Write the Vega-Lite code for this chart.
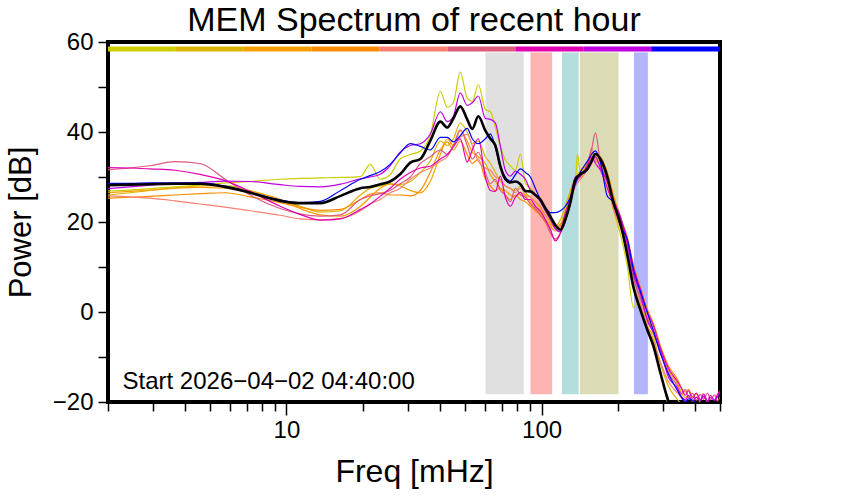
{
  "$schema": "https://vega.github.io/schema/vega-lite/v6.json",
  "autosize": {"type": "none"},
  "width": 612,
  "height": 360,
  "padding": {"left": 108, "top": 42, "right": 122, "bottom": 98},
  "background": "white",
  "config": {
    "font": "Liberation Sans",
    "view": {"stroke": "black", "strokeWidth": 4},
    "axis": {"labelFont": "Liberation Sans", "titleFont": "Liberation Sans", "labelColor": "black", "titleColor": "black", "tickColor": "black", "domain": false, "grid": false, "titleFontWeight": "normal", "labelFlush": false, "labelOverlap": false}
  },
  "title": {"text": "MEM Spectrum of recent hour", "fontSize": 34, "fontWeight": "normal", "color": "black", "font": "Liberation Sans", "anchor": "middle", "offset": -8},
  "datasets": {
    "spec": [
      {"f":2,"y1":26.9,"y2":26.0,"y3":26.5,"y4":25.3,"y5":25.8,"y6":31.6,"y7":32.1,"y8":27.4,"y9":28.6,"m":28.2},
      {"f":2.44,"y1":27.1,"y2":26.5,"y3":26.8,"y4":25.5,"y5":25.6,"y6":32.0,"y7":32.0,"y8":27.8,"y9":28.6,"m":28.3},
      {"f":2.92,"y1":27.4,"y2":27.0,"y3":27.1,"y4":25.7,"y5":25.3,"y6":32.5,"y7":31.8,"y8":28.2,"y9":28.7,"m":28.4},
      {"f":3.66,"y1":27.8,"y2":27.6,"y3":27.5,"y4":26.0,"y5":24.7,"y6":33.4,"y7":31.5,"y8":28.6,"y9":28.7,"m":28.5},
      {"f":4.59,"y1":28.2,"y2":28.0,"y3":27.7,"y4":26.3,"y5":24.0,"y6":33.0,"y7":30.6,"y8":28.8,"y9":28.7,"m":28.5},
      {"f":5.75,"y1":28.7,"y2":28.1,"y3":27.5,"y4":26.5,"y5":23.3,"y6":29.5,"y7":29.2,"y8":29.1,"y9":28.0,"m":27.8},
      {"f":7.21,"y1":29.0,"y2":27.0,"y3":26.8,"y4":25.6,"y5":22.5,"y6":26.0,"y7":26.8,"y8":29.0,"y9":26.6,"m":26.5},
      {"f":9.45,"y1":29.5,"y2":25.0,"y3":25.0,"y4":24.3,"y5":21.5,"y6":23.0,"y7":23.5,"y8":28.3,"y9":24.9,"m":24.7},
      {"f":11.3,"y1":29.7,"y2":23.5,"y3":23.0,"y4":23.3,"y5":20.7,"y6":21.8,"y7":21.7,"y8":27.9,"y9":24.3,"m":24.2},
      {"f":13.6,"y1":29.8,"y2":22.2,"y3":21.6,"y4":22.6,"y5":20.5,"y6":21.3,"y7":20.4,"y8":27.8,"y9":24.6,"m":24.2},
      {"f":16.3,"y1":29.9,"y2":22.5,"y3":21.3,"y4":22.8,"y5":20.8,"y6":21.6,"y7":20.7,"y8":28.4,"y9":27.0,"m":25.8},
      {"f":19.5,"y1":30.1,"y2":26.0,"y3":23.5,"y4":25.0,"y5":22.5,"y6":25.0,"y7":22.8,"y8":29.6,"y9":29.5,"m":27.5},
      {"f":21.3,"y1":32.8,"y2":27.5,"y3":25.5,"y4":26.2,"y5":24.0,"y6":25.8,"y7":24.0,"y8":30.0,"y9":30.3,"m":27.8},
      {"f":23.3,"y1":29.5,"y2":28.0,"y3":27.5,"y4":26.5,"y5":25.0,"y6":26.3,"y7":25.7,"y8":30.6,"y9":31.2,"m":28.4},
      {"f":25.5,"y1":30.5,"y2":28.5,"y3":28.4,"y4":26.0,"y5":26.5,"y6":27.0,"y7":27.5,"y8":32.5,"y9":32.8,"m":29.0},
      {"f":27.9,"y1":34.0,"y2":28.3,"y3":28.0,"y4":26.0,"y5":27.5,"y6":28.5,"y7":29.5,"y8":35.5,"y9":35.3,"m":30.6},
      {"f":30.6,"y1":35.0,"y2":29.0,"y3":27.0,"y4":25.8,"y5":29.5,"y6":30.0,"y7":31.0,"y8":37.0,"y9":37.4,"m":33.2},
      {"f":33.5,"y1":35.8,"y2":31.0,"y3":26.5,"y4":27.0,"y5":31.0,"y6":33.0,"y7":32.0,"y8":37.4,"y9":36.8,"m":34.0},
      {"f":36.6,"y1":39.2,"y2":33.5,"y3":29.0,"y4":31.0,"y5":32.0,"y6":34.5,"y7":32.4,"y8":39.5,"y9":36.0,"m":38.0},
      {"f":40.1,"y1":49.0,"y2":38.0,"y3":35.0,"y4":36.0,"y5":33.5,"y6":36.0,"y7":34.0,"y8":44.5,"y9":38.8,"m":42.3},
      {"f":42.7,"y1":45.5,"y2":37.0,"y3":38.5,"y4":37.8,"y5":34.5,"y6":35.0,"y7":35.0,"y8":42.3,"y9":38.8,"m":41.0},
      {"f":45.1,"y1":46.5,"y2":38.5,"y3":37.0,"y4":36.0,"y5":36.9,"y6":37.0,"y7":36.7,"y8":43.5,"y9":37.8,"m":43.0},
      {"f":48.0,"y1":53.3,"y2":42.0,"y3":40.3,"y4":38.0,"y5":38.9,"y6":40.5,"y7":38.5,"y8":48.7,"y9":39.2,"m":45.7},
      {"f":51.1,"y1":47.5,"y2":40.0,"y3":38.0,"y4":35.0,"y5":39.5,"y6":37.0,"y7":33.3,"y8":45.9,"y9":40.8,"m":42.8},
      {"f":53.5,"y1":46.8,"y2":37.5,"y3":35.5,"y4":33.0,"y5":37.0,"y6":34.0,"y7":36.0,"y8":46.5,"y9":38.5,"m":40.7},
      {"f":56.5,"y1":50.5,"y2":38.0,"y3":34.5,"y4":34.0,"y5":33.5,"y6":35.5,"y7":38.5,"y8":48.0,"y9":37.4,"m":43.5},
      {"f":60.2,"y1":45.0,"y2":34.5,"y3":33.0,"y4":29.5,"y5":32.0,"y6":31.0,"y7":30.0,"y8":43.0,"y9":38.5,"m":40.3},
      {"f":63.0,"y1":44.5,"y2":33.0,"y3":30.5,"y4":28.0,"y5":31.5,"y6":28.5,"y7":27.0,"y8":42.8,"y9":39.6,"m":38.5},
      {"f":65.9,"y1":41.0,"y2":31.0,"y3":29.0,"y4":27.0,"y5":30.0,"y6":29.5,"y7":26.8,"y8":42.0,"y9":36.5,"m":37.0},
      {"f":68.9,"y1":36.9,"y2":29.0,"y3":27.5,"y4":27.5,"y5":29.5,"y6":27.0,"y7":30.2,"y8":36.9,"y9":32.4,"m":32.4},
      {"f":72.1,"y1":33.8,"y2":28.0,"y3":27.0,"y4":26.0,"y5":28.0,"y6":26.0,"y7":25.5,"y8":31.5,"y9":30.0,"m":29.5},
      {"f":75.4,"y1":32.5,"y2":27.5,"y3":26.0,"y4":25.0,"y5":27.5,"y6":24.5,"y7":23.5,"y8":30.2,"y9":29.1,"m":28.8},
      {"f":78.9,"y1":31.5,"y2":27.0,"y3":25.5,"y4":26.0,"y5":26.5,"y6":27.5,"y7":25.5,"y8":31.3,"y9":30.5,"m":29.0},
      {"f":82.6,"y1":35.1,"y2":28.0,"y3":26.5,"y4":25.0,"y5":27.5,"y6":26.0,"y7":26.6,"y8":30.6,"y9":31.8,"m":28.4},
      {"f":86.4,"y1":28.5,"y2":26.5,"y3":25.8,"y4":24.5,"y5":26.0,"y6":25.5,"y7":25.0,"y8":29.5,"y9":31.0,"m":26.9},
      {"f":90.4,"y1":27.5,"y2":25.5,"y3":24.5,"y4":23.5,"y5":25.5,"y6":24.0,"y7":25.0,"y8":27.0,"y9":30.0,"m":26.8},
      {"f":94.5,"y1":26.0,"y2":24.5,"y3":23.0,"y4":22.5,"y5":24.5,"y6":23.0,"y7":23.5,"y8":26.0,"y9":27.5,"m":26.0},
      {"f":98.9,"y1":24.4,"y2":23.0,"y3":22.0,"y4":21.5,"y5":23.5,"y6":21.5,"y7":22.4,"y8":24.5,"y9":25.0,"m":25.0},
      {"f":103.5,"y1":22.5,"y2":21.5,"y3":20.5,"y4":20.0,"y5":21.5,"y6":20.0,"y7":20.5,"y8":22.5,"y9":23.2,"m":23.0},
      {"f":108.3,"y1":20.6,"y2":20.0,"y3":19.5,"y4":19.0,"y5":20.5,"y6":17.5,"y7":18.3,"y8":20.5,"y9":22.1,"m":21.2},
      {"f":113.2,"y1":19.0,"y2":19.2,"y3":18.8,"y4":18.0,"y5":18.5,"y6":16.2,"y7":15.8,"y8":18.5,"y9":22.1,"m":19.3},
      {"f":118.5,"y1":19.5,"y2":20.5,"y3":19.5,"y4":19.0,"y5":19.0,"y6":17.5,"y7":17.6,"y8":17.8,"y9":22.5,"m":18.3},
      {"f":123.9,"y1":22.0,"y2":23.5,"y3":22.5,"y4":21.5,"y5":21.5,"y6":20.0,"y7":22.0,"y8":21.0,"y9":23.5,"m":20.6},
      {"f":129.7,"y1":26.6,"y2":27.0,"y3":26.0,"y4":25.5,"y5":25.0,"y6":24.0,"y7":25.0,"y8":25.5,"y9":25.5,"m":24.4},
      {"f":135.7,"y1":29.0,"y2":30.0,"y3":29.5,"y4":29.0,"y5":28.0,"y6":28.5,"y7":29.0,"y8":30.0,"y9":28.5,"m":29.5},
      {"f":138.1,"y1":35.1},
      {"f":141.9,"y1":31.1,"y2":31.0,"y3":31.5,"y4":30.5,"y5":29.5,"y6":30.0,"y7":30.2,"y8":30.5,"y9":31.1,"m":30.6},
      {"f":151.1,"y1":33.0,"y2":33.5,"y3":33.0,"y4":32.5,"y5":32.0,"y6":33.0,"y7":32.5,"y8":31.5,"y9":33.5,"m":31.8},
      {"f":156.8,"y1":34.0,"y2":34.5,"y3":35.0,"y4":35.5,"y5":36.5,"y6":36.0,"y7":34.5,"y8":33.0,"y9":35.0,"m":33.5},
      {"f":162.5,"y1":34.0,"y2":33.5,"y3":34.5,"y4":35.0,"y5":34.0,"y6":39.8,"y7":33.0,"y8":34.5,"y9":35.8,"m":35.1},
      {"f":170,"y1":32.5,"y2":33.0,"y3":33.5,"y4":34.5,"y5":32.5,"y6":33.0,"y7":31.5,"y8":32.0,"y9":33.3,"m":34.0},
      {"f":181,"y1":28.0,"y2":29.5,"y3":30.0,"y4":31.0,"y5":28.5,"y6":29.0,"y7":27.5,"y8":29.0,"y9":25.7,"m":30.0},
      {"f":191,"y1":22.8,"y2":24.5,"y3":25.0,"y4":26.0,"y5":23.0,"y6":24.0,"y7":24.0,"y8":25.0,"y9":24.4,"m":24.4},
      {"f":204,"y1":17.0,"y2":19.5,"y3":20.0,"y4":21.0,"y5":18.5,"y6":19.0,"y7":20.5,"y8":21.0,"y9":19.0,"m":19.5},
      {"f":217,"y1":10.0,"y2":13.5,"y3":15.0,"y4":16.5,"y5":13.0,"y6":14.0,"y7":16.0,"y8":15.0,"y9":16.0,"m":12.5},
      {"f":229,"y1":1.0,"y2":6.0,"y3":9.0,"y4":10.5,"y5":8.0,"y6":7.5,"y7":10.0,"y8":8.5,"y9":9.4,"m":5.5},
      {"f":244,"y1":3.0,"y2":1.5,"y3":4.0,"y4":5.5,"y5":2.0,"y6":3.0,"y7":5.0,"y8":4.0,"y9":4.5,"m":0.4},
      {"f":260,"y1":-3.4,"y2":-3.0,"y3":-1.0,"y4":0.5,"y5":-3.5,"y6":-1.5,"y7":0.0,"y8":-2.0,"y9":-0.3,"m":-4.1},
      {"f":274,"y1":-5.0,"y2":-6.0,"y3":-4.0,"y4":-2.5,"y5":-6.5,"y6":-4.5,"y7":-3.0,"y8":-4.5,"y9":-4.1,"m":-7.5},
      {"f":292,"y1":-13.0,"y2":-11.5,"y3":-8.5,"y4":-7.5,"y5":-11.0,"y6":-9.0,"y7":-8.0,"y8":-8.5,"y9":-9.2,"m":-13.5},
      {"f":314,"y1":-21.0,"y2":-16.5,"y3":-13.0,"y4":-12.0,"y5":-15.5,"y6":-13.5,"y7":-12.5,"y8":-14.5,"y9":-13.7,"m":-19.8},
      {"f":341,"y2":-19.5,"y3":-16.0,"y4":-15.0,"y5":-18.0,"y6":-16.5,"y7":-15.5,"y8":-17.0,"y9":-17.5,"m":-23},
      {"f":353,"y2":-20.5,"y3":-18.0,"y4":-16.8,"y5":-19.0,"y6":-18.2,"y7":-17.0,"y8":-18.8,"y9":-19.0},
      {"f":366,"y3":-19.0,"y4":-17.8,"y5":-19.8,"y6":-17.2,"y7":-18.5,"y8":-19.5,"y9":-20.0},
      {"f":376,"y3":-18.5,"y4":-17.2,"y5":-20.5,"y6":-19.0,"y7":-17.5,"y8":-18.6,"y9":-19.3},
      {"f":390,"y3":-19.8,"y4":-18.8,"y6":-18.0,"y7":-19.2,"y8":-19.8,"y9":-19.6},
      {"f":404,"y3":-19.0,"y4":-18.2,"y6":-19.6,"y7":-18.0,"y8":-18.9,"y9":-20.4},
      {"f":419,"y3":-20.2,"y4":-19.6,"y6":-18.3,"y7":-19.5,"y8":-19.7},
      {"f":431,"y4":-18.8,"y6":-19.4,"y7":-18.2,"y8":-18.7},
      {"f":447,"y4":-20.2,"y6":-18.0,"y7":-19.8,"y8":-19.9},
      {"f":459,"y6":-19.5,"y7":-18.5,"y8":-19.0},
      {"f":476,"y6":-18.4,"y7":-19.6,"y8":-19.6},
      {"f":489,"y6":-19.8,"y7":-18.3,"y8":-18.8},
      {"f":500,"y6":-18.8,"y7":-17.5,"y8":-17.8}
    ],
    "bands": [
      {"b": "A", "f0": 60, "f1": 85.5},
      {"b": "B", "f0": 90, "f1": 110.5},
      {"b": "C", "f0": 119.5, "f1": 140.5},
      {"b": "D", "f0": 140.5, "f1": 201},
      {"b": "E", "f0": 229, "f1": 262}
    ],
    "bar": [
      {"s": "y1", "f0": 2, "f1": 3.69},
      {"s": "y2", "f0": 3.69, "f1": 6.81},
      {"s": "y3", "f0": 6.81, "f1": 12.56},
      {"s": "y4", "f0": 12.56, "f1": 23.18},
      {"s": "y5", "f0": 23.18, "f1": 42.8},
      {"s": "y6", "f0": 42.8, "f1": 78.9},
      {"s": "y7", "f0": 78.9, "f1": 145.6},
      {"s": "y8", "f0": 145.6, "f1": 268.7},
      {"s": "y9", "f0": 268.7, "f1": 500}
    ],
    "note": [{"label": "Start 2026−04−02 04:40:00"}]
  },
  "layer": [
    {
      "data": {"name": "bands"},
      "mark": {"type": "rect", "stroke": "white", "strokeWidth": 1},
      "encoding": {
        "x": {"field": "f0", "type": "quantitative", "scale": {"type": "log", "domain": [2, 500], "nice": false},
          "axis": {"values": [2, 3, 4, 5, 6, 7, 8, 9, 10, 20, 30, 40, 50, 60, 70, 80, 90, 100, 200, 300, 400, 500],
            "labelExpr": "datum.value == 10 || datum.value == 100 ? format(datum.value, 'd') : ''",
            "labelFontSize": 24, "labelPadding": 3, "tickWidth": 1.5,
            "tickSize": {"condition": {"test": "datum.value == 10 || datum.value == 100", "value": 13}, "value": 9},
            "title": "Freq [mHz]", "titleFontSize": 32, "titlePadding": 14}},
        "x2": {"field": "f1"},
        "y": {"datum": 57.8, "type": "quantitative", "scale": {"domain": [-20, 60], "nice": false, "zero": false},
          "axis": {"values": [-20, -10, 0, 10, 20, 30, 40, 50, 60],
            "labelExpr": "datum.value % 20 == 0 ? format(datum.value, 'd') : ''",
            "labelFontSize": 24, "labelPadding": 5, "tickWidth": 1.5, "tickSize": 10,
            "title": "Power [dB]", "titleFontSize": 31, "titlePadding": 15}},
        "y2": {"datum": -18.4},
        "fill": {"field": "b", "type": "nominal", "legend": null, "scale": {"domain": ["A", "B", "C", "D", "E"], "range": ["#e0e0e0", "#ffb4b4", "#b4dddd", "#dbdbb5", "#b4b4ff"]}}
      }
    },
    {
      "data": {"name": "spec"},
      "transform": [
        {"fold": ["y1", "y2", "y3", "y4", "y5", "y6", "y7", "y8", "y9"], "as": ["s", "v"]},
        {"filter": "isValid(datum.v)"}
      ],
      "mark": {"type": "line", "strokeWidth": 1.2, "clip": true, "interpolate": "monotone"},
      "encoding": {
        "x": {"field": "f", "type": "quantitative", "scale": {"type": "log", "domain": [2, 500], "nice": false}},
        "y": {"field": "v", "type": "quantitative", "scale": {"domain": [-20, 60], "nice": false, "zero": false}},
        "color": {"field": "s", "type": "nominal", "legend": null,
          "scale": {"domain": ["y1", "y2", "y3", "y4", "y5", "y6", "y7", "y8", "y9"],
            "range": ["#cdcd00", "#dbb400", "#f5a000", "#ff8c00", "#fa8072", "#dc5a7a", "#e000b0", "#c000e0", "#0000ff"]}}
      }
    },
    {
      "data": {"name": "spec"},
      "transform": [{"filter": "isValid(datum.m)"}],
      "mark": {"type": "line", "strokeWidth": 2.6, "color": "black", "clip": true, "interpolate": "monotone"},
      "encoding": {
        "x": {"field": "f", "type": "quantitative", "scale": {"type": "log", "domain": [2, 500], "nice": false}},
        "y": {"field": "m", "type": "quantitative", "scale": {"domain": [-20, 60], "nice": false, "zero": false}}
      }
    },
    {
      "data": {"name": "bar"},
      "mark": {"type": "rect"},
      "encoding": {
        "x": {"field": "f0", "type": "quantitative", "scale": {"type": "log", "domain": [2, 500], "nice": false}},
        "x2": {"field": "f1"},
        "y": {"datum": 59.0, "type": "quantitative", "scale": {"domain": [-20, 60], "nice": false, "zero": false}},
        "y2": {"datum": 57.9},
        "color": {"field": "s", "type": "nominal", "legend": null,
          "scale": {"domain": ["y1", "y2", "y3", "y4", "y5", "y6", "y7", "y8", "y9"],
            "range": ["#cdcd00", "#dbb400", "#f5a000", "#ff8c00", "#fa8072", "#dc5a7a", "#e000b0", "#c000e0", "#0000ff"]}}
      }
    },
    {
      "data": {"name": "note"},
      "mark": {"type": "text", "align": "left", "baseline": "alphabetic", "fontSize": 24, "font": "Liberation Sans", "color": "black"},
      "encoding": {
        "x": {"datum": 2.28, "type": "quantitative", "scale": {"type": "log", "domain": [2, 500], "nice": false}},
        "y": {"datum": -17.0, "type": "quantitative", "scale": {"domain": [-20, 60], "nice": false, "zero": false}},
        "text": {"field": "label"}
      }
    }
  ]
}
